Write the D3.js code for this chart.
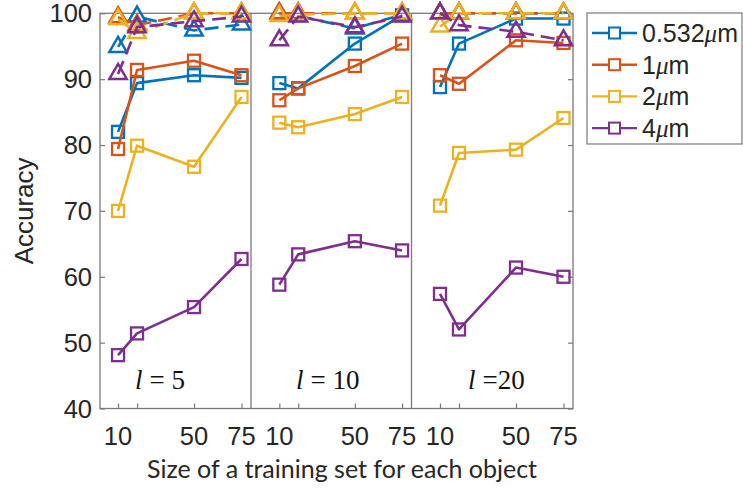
<!DOCTYPE html>
<html>
<head>
<meta charset="utf-8">
<script src="https://cdn.jsdelivr.net/npm/d3@7"></script>
<style>
  body { margin: 0; background: #fff; }
  svg { display: block; }
</style>
</head>
<body>
<svg id="chart" width="743" height="488"></svg>
<script>
// Training-set sizes per object (x values) and their tick labels
const sizes = [10, 20, 50, 75];
const sizeTickLabels = ["10", "", "50", "75"];
// Sequence length l for each of the three panels
const panelLengths = ["5", "10", "20"];
const panelLabelText = ["= 5", "= 10", "=20"];
// Wavelengths
const wavelengths = ["0.532", "1", "2", "4"];
const seriesColors = ["#0072BD", "#D95319", "#EDB120", "#7E2F8E"];
const yTicks = [40, 50, 60, 70, 80, 90, 100];

// Accuracy (%) of the square-marker method, solid lines; one row per panel (l = 5, 10, 20)
const squares0532 = [[82.0, 89.4, 90.6, 90.2], [89.4, 88.6, 95.4, 99.7], [88.8, 95.4, 99.2, 99.2]];
const squares1    = [[79.4, 91.4, 92.8, 90.6], [86.8, 88.6, 92.0, 95.4], [90.6, 89.3, 95.9, 95.5]];
const squares2    = [[70.0, 79.9, 76.7, 87.3], [83.4, 82.7, 84.7, 87.3], [70.8, 78.8, 79.3, 84.1]];
const squares4    = [[48.1, 51.4, 55.4, 62.7], [58.8, 63.4, 65.4, 64.0], [57.4, 52.0, 61.4, 60.0]];

// Accuracy (%) of the triangle-marker method, dashed lines
const triangles0532 = [[94.9, 99.5, 97.4, 98.3], [100, 99.6, 97.7, 99.8], [100, 100, 100, 100]];
const triangles1    = [[99.4, 98.2, 100, 100], [100, 100, 100, 100], [100, 100, 100, 100]];
const triangles2    = [[99.1, 97.0, 100, 100], [99.6, 99.8, 100, 100], [98.0, 100, 100, 100]];
const triangles4    = [[90.8, 97.9, 98.8, 99.5], [95.9, 99.5, 97.9, 99.5], [100, 98.2, 97.2, 95.9]];

const squareSeries = [squares0532, squares1, squares2, squares4];
const triangleSeries = [triangles0532, triangles1, triangles2, triangles4];

const svg = d3.select("#chart");
const plotTop = 13.3, plotBottom = 408.5;
const axisColor = "#7a7a7a";
const sansFont = "'Liberation Sans', Arial, sans-serif";

const y = d3.scaleLinear().domain([40, 100]).range([plotBottom, plotTop]);

// Three side-by-side panels sharing the y axis
const panelBounds = [[100, 251], [251, 411.5], [411.5, 573]];
const panelDomains = [[0.5, 80], [-5, 80], [-5, 80]];
const xScales = panelBounds.map((b, i) => d3.scaleLinear().domain(panelDomains[i]).range(b));

// Frame and panel dividers
const frame = svg.append("g").attr("fill", "none").attr("stroke", axisColor).attr("stroke-width", 1.3);
frame.append("rect")
  .attr("x", panelBounds[0][0]).attr("y", plotTop)
  .attr("width", panelBounds[2][1] - panelBounds[0][0]).attr("height", plotBottom - plotTop);
panelBounds.slice(1).forEach(b => {
  frame.append("line").attr("x1", b[0]).attr("x2", b[0]).attr("y1", plotTop).attr("y2", plotBottom);
});

// Y axis ticks (inward on both outer edges) and labels
const yAxisLeft = d3.axisRight(y).tickValues(yTicks).tickSize(5).tickFormat("");
const yAxisRight = d3.axisLeft(y).tickValues(yTicks).tickSize(5).tickFormat("");
[[yAxisLeft, panelBounds[0][0]], [yAxisRight, panelBounds[2][1]]].forEach(([ax, xp]) => {
  const g = svg.append("g").attr("transform", `translate(${xp},0)`).call(ax);
  g.select(".domain").remove();
  g.selectAll(".tick line").attr("stroke", axisColor).attr("stroke-width", 1.2);
});
svg.append("g").selectAll("text").data(yTicks).join("text")
  .attr("x", 92).attr("y", d => y(d) + 9)
  .attr("text-anchor", "end")
  .attr("font-family", sansFont).attr("font-size", 25.5).attr("fill", "#262626")
  .text(d => d);

// X axis ticks per panel
xScales.forEach(xs => {
  const g = svg.append("g").attr("transform", `translate(0,${plotBottom})`)
    .call(d3.axisTop(xs).tickValues(sizes).tickSize(5).tickFormat(""));
  g.select(".domain").remove();
  g.selectAll(".tick line").attr("stroke", axisColor).attr("stroke-width", 1.2);
  svg.append("g").selectAll("text").data(sizes).join("text")
    .attr("x", d => xs(d)).attr("y", 445)
    .attr("text-anchor", "middle")
    .attr("font-family", sansFont).attr("font-size", 25.5).attr("fill", "#262626")
    .text((d, i) => sizeTickLabels[i]);
});

// Axis titles
svg.append("text")
  .attr("transform", `translate(33,${(plotTop + plotBottom) / 2}) rotate(-90)`)
  .attr("text-anchor", "middle")
  .attr("font-family", sansFont).attr("font-size", 26).attr("fill", "#262626")
  .text("Accuracy");
svg.append("text")
  .attr("x", 342).attr("y", 478)
  .attr("text-anchor", "middle")
  .attr("font-family", "Lato, 'Open Sans', sans-serif").attr("font-size", 25).attr("fill", "#262626")
  .text("Size of a training set for each object");

// Panel annotations: l = 5, l = 10, l = 20
const labelStarts = [135, 296, 468];
panelLengths.forEach((l, i) => {
  const t = svg.append("text")
    .attr("x", labelStarts[i]).attr("y", 389)
    .attr("font-family", "'Liberation Serif', 'DejaVu Serif', serif").attr("font-size", 27).attr("fill", "#111");
  t.append("tspan").attr("font-style", "italic").text("l");
  t.append("tspan").attr("dx", 7).text(panelLabelText[i]);
});

// Series: lines then markers
const squareSize = 12;
const triangle = d3.symbol().type(d3.symbolTriangle).size(130);

function drawSeries(values, color, dashed, markerFn) {
  values.forEach((panelValues, p) => {
    const xs = xScales[p];
    const pts = panelValues.map((v, i) => [xs(sizes[i]), y(v)]);
    svg.append("path")
      .attr("d", d3.line()(pts))
      .attr("fill", "none").attr("stroke", color).attr("stroke-width", 2.6)
      .attr("stroke-dasharray", dashed ? "14,7" : null)
      .attr("stroke-linejoin", "round");
    pts.forEach(pt => markerFn(pt, color));
  });
}
function squareMarker(pt, color) {
  svg.append("rect")
    .attr("x", pt[0] - squareSize / 2).attr("y", pt[1] - squareSize / 2)
    .attr("width", squareSize).attr("height", squareSize)
    .attr("fill", "none").attr("stroke", color).attr("stroke-width", 2.3);
}
function triangleMarker(pt, color) {
  svg.append("path")
    .attr("d", triangle())
    .attr("transform", `translate(${pt[0]},${pt[1]})`)
    .attr("fill", "none").attr("stroke", color).attr("stroke-width", 2.5)
    .attr("stroke-linejoin", "miter");
}

squareSeries.forEach((s, i) => drawSeries(s, seriesColors[i], false, squareMarker));
triangleSeries.forEach((s, i) => drawSeries(s, seriesColors[i], true, triangleMarker));

// Legend
const legend = svg.append("g");
legend.append("rect")
  .attr("x", 587).attr("y", 13).attr("width", 155).attr("height", 131)
  .attr("fill", "#fff").attr("stroke", axisColor).attr("stroke-width", 1.2);
wavelengths.forEach((w, i) => {
  const cy = 33 + i * 31.7;
  legend.append("line")
    .attr("x1", 592).attr("x2", 637).attr("y1", cy).attr("y2", cy)
    .attr("stroke", seriesColors[i]).attr("stroke-width", 2.4);
  legend.append("rect")
    .attr("x", 614.5 - 5.5).attr("y", cy - 5.5).attr("width", 11).attr("height", 11)
    .attr("fill", "#fff").attr("stroke", seriesColors[i]).attr("stroke-width", 2);
  const t = legend.append("text")
    .attr("x", 642).attr("y", cy + 9)
    .attr("font-family", sansFont).attr("font-size", 25).attr("fill", "#262626");
  t.append("tspan").text(w);
  t.append("tspan").attr("font-family", "'Liberation Serif', serif").attr("font-style", "italic").text("\u03BC");
  t.append("tspan").text("m");
});
</script>
</body>
</html>
